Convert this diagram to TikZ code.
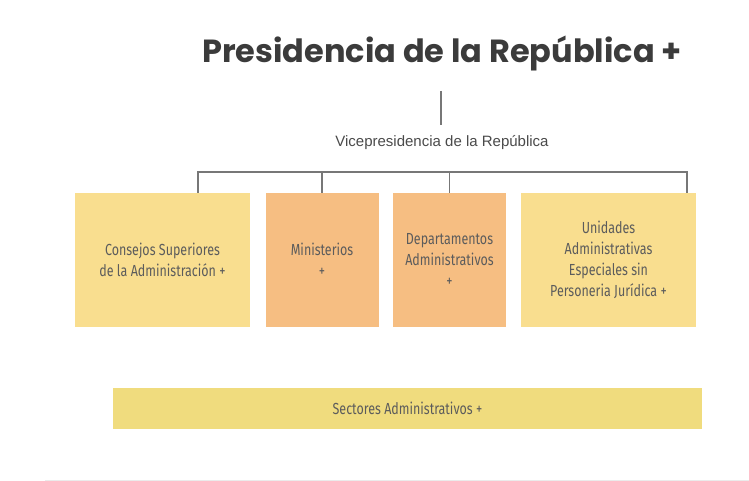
\documentclass[tikz,border=0pt]{standalone}
\usepackage{fontspec}
\setmainfont{Fira Sans}[FakeStretch=0.78]
\newfontfamily\titlefont{Poppins}
\newfontfamily\vicefont{Liberation Sans}
\usetikzlibrary{positioning}
\definecolor{amarillo}{HTML}{F9DE8F}
\definecolor{naranja}{HTML}{F6BE82}
\definecolor{sector}{HTML}{F0DC7E}
\definecolor{texto}{HTML}{4A4A4A}
\definecolor{linea}{HTML}{777777}
\tikzset{
  caja/.style={
    rectangle,
    inner sep=0pt,
    minimum height=134pt,
    text centered,
    text=texto!90,
    font=\fontsize{16}{21}\selectfont,
    execute at begin node={\spaceskip=3.4pt\relax}},
  claro/.style={caja, fill=amarillo, minimum width=175pt, text width=170pt},
  oscuro/.style={caja, fill=naranja, minimum width=113pt, text width=110pt},
  rama/.style={draw=linea, line width=1.6pt},
}

\begin{document}
\begin{tikzpicture}[x=1pt,y=-1pt]
  \useasboundingbox (0,0) rectangle (749,481);
  \node[anchor=base, text=texto!80!black, font=\titlefont\bfseries\fontsize{32}{36}\selectfont]
    (presidencia) at (442,63) {Presidencia de la República +};
  \coordinate (tope) at (441,91);
  \node[anchor=base, text=texto, font=\vicefont\fontsize{15}{17}\selectfont]
    (vice) at (442,147) {Vicepresidencia de la República};
  \coordinate (bajo) at (441,125);
  \draw[rama] (tope) -- (bajo);
  % cajas
  \node[claro] (consejos) at (162.5,260) {Consejos Superiores\\de la Administración +};
  \node[oscuro] (ministerios) at (322,260) {Ministerios\\+};
  \node[oscuro] (departamentos) at (449.5,260) {Departamentos\\Administrativos\\+};
  \node[claro] (unidades) at (608.5,260) {Unidades\\Administrativas\\Especiales sin\\Personeria Jurídica +};
  \node[caja, fill=sector, minimum width=589pt, minimum height=41pt, text width=400pt]
    (sectores) at (407.5,408.5) {Sectores Administrativos +};
  % barra
  \coordinate (bi) at (198,172);
  \coordinate (bd) at (687,172);
  \draw[rama] (consejos.north -| bi) -- (bi) -- (bd) -- (unidades.north -| bd);
  \draw[rama] (ministerios.north) -- (ministerios.north |- bi);
  \draw[rama] (departamentos.north) -- (departamentos.north |- bi);
  \coordinate (pie1) at (45,480);
  \coordinate (pie2) at (749,480);
  \draw[black!8, line width=1pt] (pie1) -- (pie2);
\end{tikzpicture}
\end{document}
